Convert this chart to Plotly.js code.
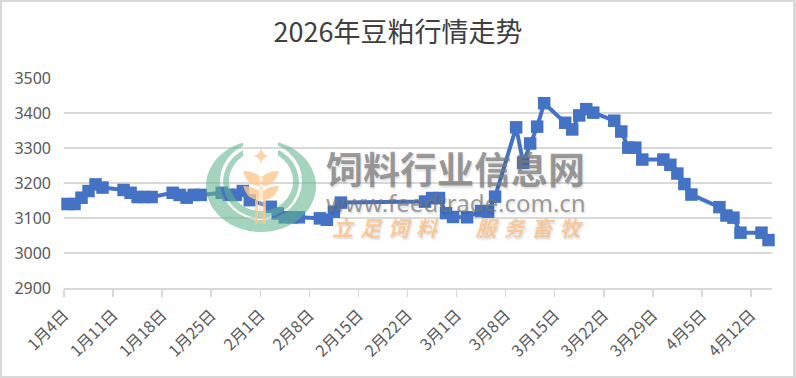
<!DOCTYPE html>
<html><head><meta charset="utf-8">
<script src="https://cdn.plot.ly/plotly-3.0.1.min.js"></script>
<style>html,body{margin:0;padding:0;background:#fff}#c{width:796px;height:378px}
#f{position:absolute;left:0;top:0;width:796px;height:378px;box-sizing:border-box;border:2px solid #d9d9d9;border-right-width:3px;pointer-events:none}</style>
</head><body><div id="c"></div><div id="f"></div>
<script>
const dates=['2026-01-04','2026-01-05','2026-01-06','2026-01-07','2026-01-08','2026-01-09',
'2026-01-12','2026-01-13','2026-01-14','2026-01-15','2026-01-16',
'2026-01-19','2026-01-20','2026-01-21','2026-01-22','2026-01-23',
'2026-01-26','2026-01-27','2026-01-28','2026-01-29','2026-01-30',
'2026-02-02','2026-02-03','2026-02-04','2026-02-05','2026-02-06',
'2026-02-09','2026-02-10','2026-02-11','2026-02-12',
'2026-02-24','2026-02-25','2026-02-26','2026-02-27','2026-02-28',
'2026-03-02','2026-03-04','2026-03-05','2026-03-06',
'2026-03-09','2026-03-10','2026-03-11','2026-03-12','2026-03-13',
'2026-03-16','2026-03-17','2026-03-18','2026-03-19','2026-03-20',
'2026-03-23','2026-03-24','2026-03-25','2026-03-26','2026-03-27',
'2026-03-30','2026-03-31','2026-04-01','2026-04-02','2026-04-03',
'2026-04-07','2026-04-08','2026-04-09','2026-04-10','2026-04-13','2026-04-14'];
const prices=[3140,3140,3158,3177,3196,3187,
3180,3172,3160,3160,3160,
3172,3166,3158,3166,3166,
3172,3166,3166,3177,3151,
3132,3113,3102,3102,3102,
3099,3095,3118,3144,
3147,3157,3157,3114,3103,
3102,3120,3118,3161,
3359,3258,3313,3361,3428,
3372,3353,3393,3411,3401,
3378,3347,3301,3301,3267,
3267,3252,3227,3197,3167,
3131,3107,3101,3058,3058,3037];
const titleText='2026年豆粕行情走势';
const wmName='饲料行业信息网';
const wmUrl='www.feedtrade.com.cn';
const wmSlogan='<i>立\u2004足\u2004饲\u2004料\u2003\u2002\u2004服\u2004务\u2004畜\u2004牧</i>';
const W=796,H=378,ml=64,mr=24,mt=78,mb=90;
const pw=W-ml-mr,ph=H-mt-mb;
const logoSvg=`<svg xmlns="http://www.w3.org/2000/svg" viewBox="0 0 112 92" width="448" height="368">
<defs><clipPath id="g"><path d="M0 0H38V42H73V0H112V92H0Z"/></clipPath></defs>
<g clip-path="url(#g)" fill="#63b58d" fill-opacity="0.58" fill-rule="evenodd">
<path d="M1 46a55 46 0 1 0 110 0a55 46 0 1 0 -110 0ZM15 41a41 39 0 1 1 82 0a41 39 0 1 1 -82 0Z"/>
<path d="M18 42a38 36 0 1 0 76 0a38 36 0 1 0 -76 0ZM24 41a32 30 0 1 1 64 0a32 30 0 1 1 -64 0Z"/>
</g>
<g fill="#fcc78e" fill-opacity="0.8">
<path d="M38 31Q48 31 54 36V46Q42 46 38 31Z"/><path d="M74 31Q64 31 58 36V46Q70 46 74 31Z"/>
<path d="M38 46Q48 46 54 51V60Q42 60 38 46Z"/><path d="M74 46Q64 46 58 51V60Q70 60 74 46Z"/>
<rect x="50" y="60" width="3" height="24"/><rect x="58" y="60" width="3" height="24"/>
<rect x="54" y="36" width="4" height="48" fill-opacity="0.4"/>
<path d="M56 8Q57 15 64 16Q57 17 56 24Q55 17 48 16Q55 15 56 8Z"/>
</g></svg>`;
const shadow='1px 2px 2px rgba(0,0,0,0.18)';
const wm=(text,cx,cy,font)=>({text,xref:'paper',yref:'paper',x:(cx-ml)/pw,y:1-(cy-mt)/ph,xanchor:'center',yanchor:'middle',showarrow:false,font});
Plotly.newPlot('c',[{x:dates,y:prices,type:'scatter',mode:'lines+markers',xperiod:86400000,xperiodalignment:'middle',line:{color:'#4472c4',width:4},marker:{symbol:'square',size:12.5,color:'#4472c4'},cliponaxis:false,hoverinfo:'skip'}],{
width:W,height:H,margin:{l:ml,r:mr,t:mt,b:mb},paper_bgcolor:'#fff',plot_bgcolor:'#fff',showlegend:false,
title:{text:titleText,font:{family:'"Noto Sans CJK SC"',size:27,color:'#404040'},x:0.5,xanchor:'center',y:0.915,yanchor:'middle'},
xaxis:{type:'date',range:['2026-01-04','2026-04-15'],tick0:'2026-01-04',dtick:604800000,tickformat:'%-m月%-d日',tickangle:-45,ticks:'outside',ticklen:7,tickcolor:'#d9d9d9',tickwidth:1.5,showline:true,linecolor:'#d9d9d9',linewidth:1.5,showgrid:false,zeroline:false,ticklabelstandoff:3,tickfont:{family:'"Noto Sans CJK SC"',size:16,color:'#595959'}},
yaxis:{range:[2900,3500],dtick:100,tick0:2900,ticks:'',gridcolor:'#d9d9d9',gridwidth:1.5,zeroline:false,showline:false,ticklabelstandoff:12,tickfont:{family:'"Noto Sans",sans-serif',size:16,color:'#595959'}},
images:[{source:'data:image/svg+xml;charset=utf-8,'+encodeURIComponent(logoSvg),xref:'paper',yref:'paper',x:(205-ml)/pw,y:1-(140-mt)/ph,sizex:112/pw,sizey:92/ph,sizing:'stretch',xanchor:'left',yanchor:'top',layer:'above'}],
annotations:[
wm(wmName,455,168,{family:'"Noto Sans CJK SC"',size:37,weight:700,color:'rgba(120,120,120,0.72)',shadow}),
wm(wmUrl,456,202,{family:'"Noto Sans"',size:24,color:'rgba(120,120,120,0.72)',shadow}),
wm(wmSlogan,457,227,{family:'"Noto Sans CJK SC"',size:21,weight:700,color:'rgba(250,190,130,0.75)',shadow})
]
},{displayModeBar:false,staticPlot:true});
</script></body></html>
